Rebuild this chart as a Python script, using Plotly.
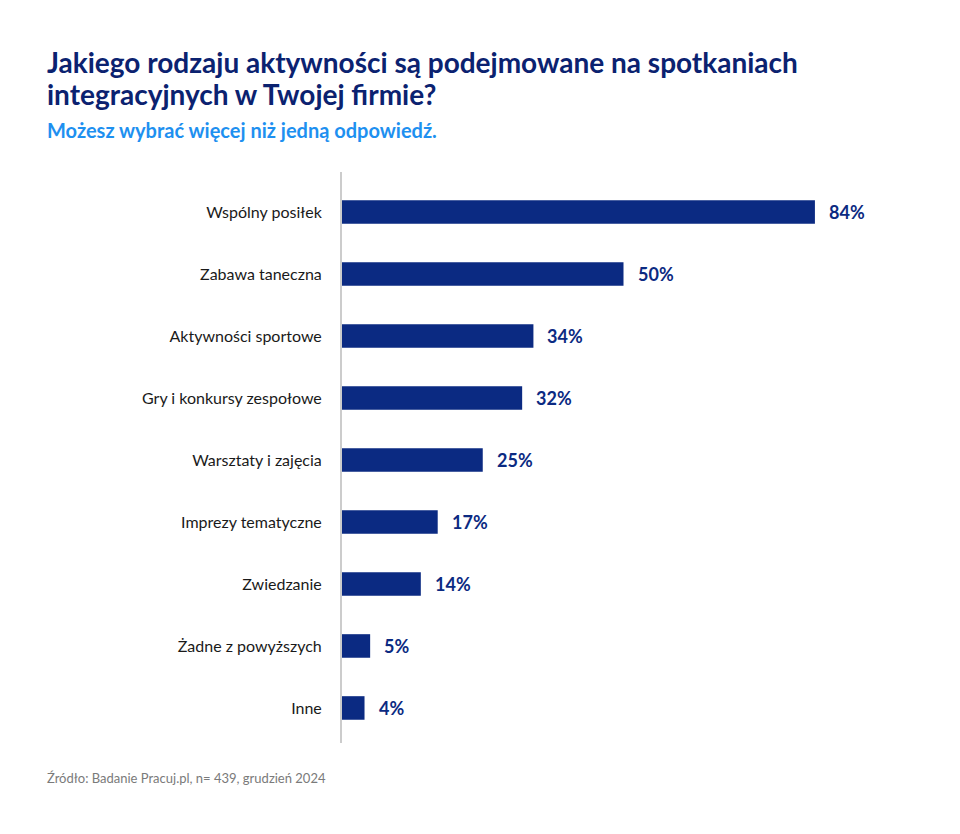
import plotly.graph_objects as go

categories = ["Wspólny posiłek", "Zabawa taneczna", "Aktywności sportowe",
              "Gry i konkursy zespołowe", "Warsztaty i zajęcia", "Imprezy tematyczne",
              "Zwiedzanie", "Żadne z powyższych", "Inne"]
values = [84, 50, 34, 32, 25, 17, 14, 5, 4]
value_labels = ["84%", "50%", "34%", "32%", "25%", "17%", "14%", "5%", "4%"]

title_lines = ["Jakiego rodzaju aktywności są podejmowane na spotkaniach",
               "integracyjnych w Twojej firmie?"]
subtitle_text = "Możesz wybrać więcej niż jedną odpowiedź."
source_text = "Źródło: Badanie Pracuj.pl, n= 439, grudzień 2024"

NAVY = "#0B2A82"
FONT = "Lato"

# page offset compensation (browser body margin)
OFF = 8
W, H = 952, 826
ml, mr, mt, mb = 342 - OFF, 55, 172 - OFF, 91

fig = go.Figure()
fig.add_trace(go.Bar(
    x=values, y=categories, orientation="h",
    marker=dict(color=NAVY, line=dict(width=0)),
    width=0.38, hoverinfo="skip",
))

for v, c, t in zip(values, categories, value_labels):
    fig.add_annotation(x=v, y=c, text=t, showarrow=False, xanchor="left",
                       xshift=12, font=dict(family=FONT, size=18, color=NAVY, weight="bold"))


def px(xp):
    return (xp - OFF - ml) / (W - ml - mr)


def py(yp):
    return 1 - (yp - OFF - mt) / (H - mt - mb)


for i, line in enumerate(title_lines):
    fig.add_annotation(text="<b>" + line + "</b>", x=px(45), y=py(43 + 32 * i),
                       xref="paper", yref="paper", xanchor="left", yanchor="top",
                       align="left", showarrow=False,
                       font=dict(family=FONT, size=28, color="#0B2270"))
fig.add_annotation(text="<b>" + subtitle_text + "</b>", x=px(45), y=py(116), xref="paper", yref="paper",
                   xanchor="left", yanchor="top", align="left", showarrow=False,
                   font=dict(family=FONT, size=20, color="#1E90F0"))
fig.add_annotation(text=source_text, x=px(45), y=py(768), xref="paper", yref="paper",
                   xanchor="left", yanchor="top", align="left", showarrow=False,
                   font=dict(family=FONT, size=13, color="#7A7A7A"))

fig.update_layout(
    width=W, height=H,
    margin=dict(l=ml, r=mr, t=mt, b=mb),
    paper_bgcolor="white", plot_bgcolor="white",
    showlegend=False,
    font=dict(family=FONT),
    xaxis=dict(range=[0, 100], visible=False, fixedrange=True),
    yaxis=dict(categoryorder="array", categoryarray=categories,
               range=[8.565, -0.645], showline=True, linecolor="#CCCCCC", linewidth=2,
               showgrid=False, zeroline=False, ticks="", ticklabelstandoff=15,
               tickfont=dict(family=FONT, size=16, color="#1A1A1A"), fixedrange=True),
)

fig.write_html("out.html")
